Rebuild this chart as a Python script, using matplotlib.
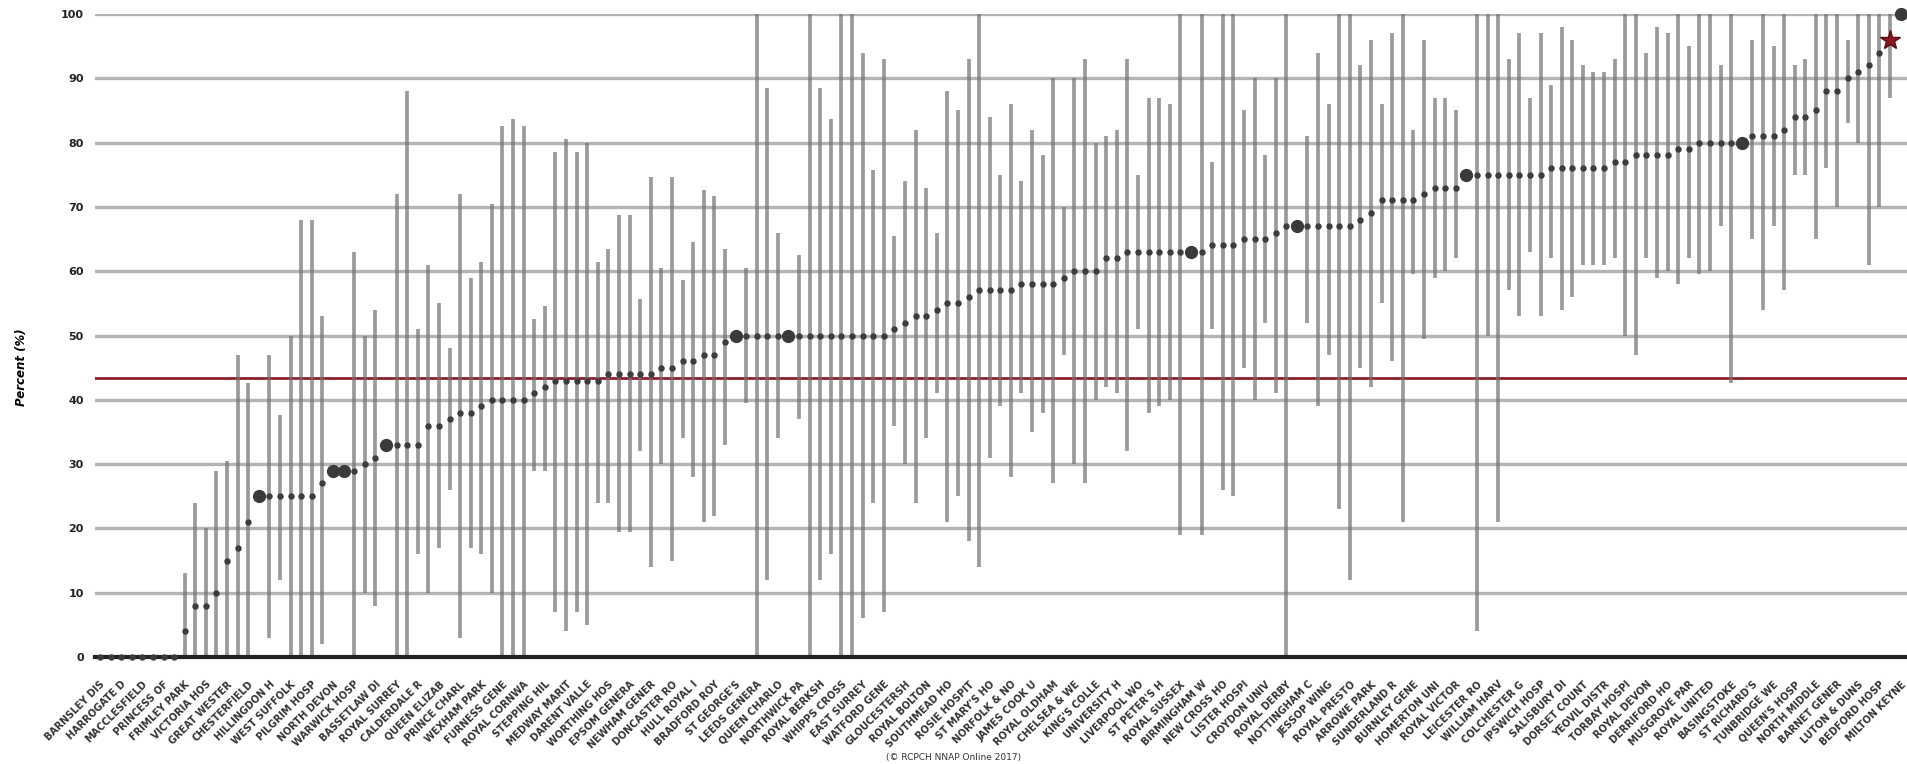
import numpy as np
import matplotlib
matplotlib.use("Agg")
import matplotlib.pyplot as plt

# percentage per unit (sorted), with 95% limits; nan = no interval drawn
pct = [0, 0, 0, 0, 0, 0, 0, 0, 4, 8, 8, 10, 15, 17, 21, 25, 25, 25, 25, 25,
       25, 27, 29, 29, 29, 30, 31, 33, 33, 33, 33, 36, 36, 37, 38, 38, 39, 40, 40, 40,
       40, 41, 42, 43, 43, 43, 43, 43, 44, 44, 44, 44, 44, 45, 45, 46, 46, 47, 47, 49,
       50, 50, 50, 50, 50, 50, 50, 50, 50, 50, 50, 50, 50, 50, 50, 51, 52, 53, 53, 54,
       55, 55, 56, 57, 57, 57, 57, 58, 58, 58, 58, 59, 60, 60, 60, 62, 62, 63, 63, 63,
       63, 63, 63, 63, 63, 64, 64, 64, 65, 65, 65, 66, 67, 67, 67, 67, 67, 67, 67, 68,
       69, 71, 71, 71, 71, 72, 73, 73, 73, 75, 75, 75, 75, 75, 75, 75, 75, 76, 76, 76,
       76, 76, 76, 77, 77, 78, 78, 78, 78, 79, 79, 80, 80, 80, 80, 80, 81, 81, 81, 82,
       84, 84, 85, 88, 88, 90, 91, 92, 94, 96, 100]
nan = float("nan")
lower = [nan] * 8 + [0, 0, 0, 0, 0, 0, 0, nan, 3, 12, 0, 0,
         0, 2, nan, nan, 0, 10, 8, nan, 0, 0, 16, 10, 17, 26, 3, 17, 16, 10, 0, 0,
         0, 29, 29, 7, 4, 7, 5, 24, 24, 19.4, 19.4, 32, 14, 30, 15, 34, 28, 21, 22, 33,
         nan, 39.5, 0, 12, 34, nan, 37, 0, 12, 16, 0, 0, 6, 24, 7, 36, 30, 24, 34, 41,
         21, 25, 18, 14, 31, 39, 28, 41, 35, 38, 27, 47, 30, 27, 40, 42, 41, 32, 51, 38,
         39, 40, 19, nan, 19, 51, 26, 25, 45, 40, 52, 41, 0, nan, 52, 39, 47, 23, 12, 45,
         42, 55, 46, 21, 59.5, 49.5, 59, 60, 62, nan, 4, 50, 21, 57, 53, 63, 53, 62, 54, 56,
         61, 61, 61, 62, 50, 47, 62, 59, 60, 58, 62, 59.5, 60, 67, 42.6, nan, 65, 54, 67, 57,
         75, 75, 65, 76, 70, 83, 80, 61, 70, 87, nan]
upper = [nan] * 8 + [13, 24, 20, 29, 30.5, 47, 42.6, nan, 47, 37.6, 50, 68,
         68, 53, nan, nan, 63, 50, 54, nan, 72, 88, 51, 61, 55, 48, 72, 59, 61.5, 70.4, 82.6, 83.6,
         82.6, 52.6, 54.6, 78.6, 80.6, 78.6, 80, 61.5, 63.5, 68.8, 68.8, 55.6, 74.7, 60.5, 74.7, 58.6, 64.5, 72.7, 71.7, 63.5,
         nan, 60.5, 100, 88.5, 66, nan, 62.5, 100, 88.5, 83.6, 100, 100, 94, 75.7, 93, 65.5, 74, 82, 73, 66,
         88, 85, 93, 100, 84, 75, 86, 74, 82, 78, 90, 70, 90, 93, 80, 81, 82, 93, 75, 87,
         87, 86, 100, nan, 100, 77, 100, 100, 85, 90, 78, 90, 100, nan, 81, 94, 86, 100, 100, 92,
         96, 86, 97, 100, 82, 96, 87, 87, 85, nan, 100, 100, 100, 93, 97, 87, 97, 89, 98, 96,
         92, 91, 91, 93, 100, 100, 94, 98, 97, 100, 95, 100, 100, 92, 100, nan, 96, 100, 95, 100,
         92, 93, 100, 100, 100, 96, 100, 100, 100, 100, nan]

# units summarised as one large marker, and the highlighted unit (star)
summary_units = [15, 22, 23, 27, 60, 65, 103, 113, 129, 155, 170]
highlight_unit = 169
national_avg = 43.4

unit_labels = [
    "BARNSLEY DIS", "HARROGATE D", "MACCLESFIELD", "PRINCESS OF", "FRIMLEY PARK",
    "VICTORIA HOS", "GREAT WESTER", "CHESTERFIELD", "HILLINGDON H", "WEST SUFFOLK",
    "PILGRIM HOSP", "NORTH DEVON", "WARWICK HOSP", "BASSETLAW DI", "ROYAL SURREY",
    "CALDERDALE R", "QUEEN ELIZAB", "PRINCE CHARL", "WEXHAM PARK", "FURNESS GENE",
    "ROYAL CORNWA", "STEPPING HIL", "MEDWAY MARIT", "DARENT VALLE", "WORTHING HOS",
    "EPSOM GENERA", "NEWHAM GENER", "DONCASTER RO", "HULL ROYAL I", "BRADFORD ROY",
    "ST GEORGE'S", "LEEDS GENERA", "QUEEN CHARLO", "NORTHWICK PA", "ROYAL BERKSH",
    "WHIPPS CROSS", "EAST SURREY", "WATFORD GENE", "GLOUCESTERSH", "ROYAL BOLTON",
    "SOUTHMEAD HO", "ROSIE HOSPIT", "ST MARY'S HO", "NORFOLK & NO", "JAMES COOK U",
    "ROYAL OLDHAM", "CHELSEA & WE", "KING'S COLLE", "UNIVERSITY H", "LIVERPOOL WO",
    "ST PETER'S H", "ROYAL SUSSEX", "BIRMINGHAM W", "NEW CROSS HO", "LISTER HOSPI",
    "CROYDON UNIV", "ROYAL DERBY", "NOTTINGHAM C", "JESSOP WING", "ROYAL PRESTO",
    "ARROWE PARK", "SUNDERLAND R", "BURNLEY GENE", "HOMERTON UNI", "ROYAL VICTOR",
    "LEICESTER RO", "WILLIAM HARV", "COLCHESTER G", "IPSWICH HOSP", "SALISBURY DI",
    "DORSET COUNT", "YEOVIL DISTR", "TORBAY HOSPI", "ROYAL DEVON", "DERRIFORD HO",
    "MUSGROVE PAR", "ROYAL UNITED", "BASINGSTOKE", "ST RICHARD'S", "TUNBRIDGE WE",
    "QUEEN'S HOSP", "NORTH MIDDLE", "BARNET GENER", "LUTON & DUNS", "BEDFORD HOSP",
    "MILTON KEYNE",
]

pct = np.array(pct, dtype=float)
lower = np.array(lower, dtype=float)
upper = np.array(upper, dtype=float)
x = np.arange(len(pct))

fig = plt.figure(figsize=(19.07, 7.64), dpi=100)
ax = fig.add_axes([95 / 1907, 107 / 764, 1812 / 1907, 643 / 764])

# grid + national average
ax.set_axisbelow(True)
ax.yaxis.grid(True, color="#b4b4b4", lw=2.4)
ax.axhline(national_avg, color="#8f1f2c", lw=2.0, zorder=1)

# confidence intervals
has_ci = ~np.isnan(lower)
ax.vlines(x[has_ci], lower[has_ci], upper[has_ci], color="#707070",
          lw=2.7, alpha=0.7, zorder=2)

# points
small = [i for i in x if i not in summary_units and i != highlight_unit]
ax.plot(x[small], pct[small], "o", ms=3.6, color="#3c3c3c", zorder=3, clip_on=False)
ax.plot(x[summary_units], pct[summary_units], "o", ms=8.5, color="#3a3a3a",
        zorder=4, clip_on=False)
ax.plot([highlight_unit], [pct[highlight_unit]], "*", ms=15, color="#8e1620",
        mec="#5a0a10", zorder=5, clip_on=False)

ax.set_xlim(-0.47, 170.6)
ax.set_ylim(0, 100)
ax.set_yticks(np.arange(0, 101, 10))
ax.tick_params(axis="y", length=0, pad=8, labelsize=8, labelcolor="#222222")
for t in ax.get_yticklabels():
    t.set_fontweight("bold")

ax.set_xticks(x[::2])
ax.set_xticklabels(unit_labels, rotation=45, ha="right", rotation_mode="anchor",
                   fontsize=7, color="#333333", fontweight="bold")
ax.tick_params(axis="x", length=0, pad=16)

for s in ["top", "right", "left"]:
    ax.spines[s].set_visible(False)
ax.spines["bottom"].set_color("#222222")
ax.spines["bottom"].set_linewidth(3)

ax.set_ylabel("Percent (%)", fontsize=8.5, fontweight="bold", fontstyle="italic")
ax.yaxis.set_label_coords(-0.037, 0.45)

fig.text(0.5, 0.003, "(© RCPCH NNAP Online 2017)", ha="center", va="bottom",
         fontsize=6.5, color="#333333")

fig.savefig("out.png", dpi=100)
